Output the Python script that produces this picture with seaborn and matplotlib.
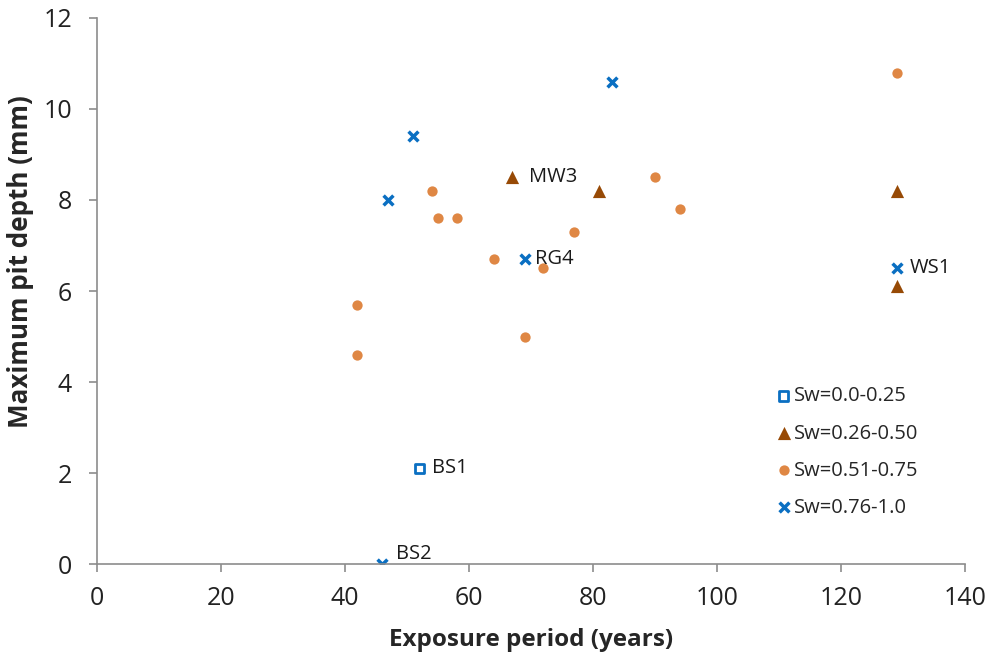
import pandas as pd
import seaborn as sns
import matplotlib.pyplot as plt

# -----------------------------
# Data
# -----------------------------

sq_x = [52]
sq_y = [2.1]

tri_x = [67, 81, 129, 129]
tri_y = [8.5, 8.2, 8.2, 6.1]

circ_x = [42, 42, 54, 55, 58, 64, 69, 72, 77, 90, 94, 129]
circ_y = [5.7, 4.6, 8.2, 7.6, 7.6, 6.7, 5.0, 6.5, 7.3, 8.5, 7.8, 10.8]

cross_x = [46, 47, 51, 69, 83, 129]
cross_y = [0.0, 8.0, 9.4, 6.7, 10.6, 6.5]

label_names = ['BS1', 'BS2', 'MW3', 'RG4', 'WS1']
label_x = [52, 46, 67, 69, 129]
label_y = [2.1, 0.0, 8.5, 6.7, 6.5]

series_names = ['Sw=0.0-0.25', 'Sw=0.26-0.50', 'Sw=0.51-0.75', 'Sw=0.76-1.0']

blue = '#0A6FC2'
brown = '#974A06'
orange = '#DF8744'
grey = '#8C8C8C'

sns.set_style('white')
plt.rcParams['font.family'] = ['Open Sans', 'DejaVu Sans']

fig = plt.figure(figsize=(9.91, 6.56), dpi=100)
ax = fig.add_axes([0.0979, 0.1402, 0.8759, 0.8324])

sns.scatterplot(x=sq_x, y=sq_y, marker='s', s=45, facecolor='none',
                edgecolor=blue, linewidth=2, label=series_names[0], ax=ax)
sns.scatterplot(x=tri_x, y=tri_y, marker='^', s=90, color=brown,
                linewidth=0, label=series_names[1], ax=ax)
sns.scatterplot(x=circ_x, y=circ_y, marker='o', s=55, color=orange,
                linewidth=0, label=series_names[2], ax=ax)
sns.scatterplot(x=cross_x, y=cross_y, marker='x', s=50, color=blue,
                linewidth=2.5, label=series_names[3], ax=ax)

# point labels
offsets = {'BS1': (9, 0), 'BS2': (10, 7), 'MW3': (12, 0), 'RG4': (7, 0), 'WS1': (9, 0)}
for name, x, y in zip(label_names, label_x, label_y):
    ax.annotate(name, (x, y), xytext=offsets[name], textcoords='offset points',
                ha='left', va='center', fontsize=14.5, color='#1a1a1a')

ax.set_xlim(0, 140)
ax.set_ylim(0, 12)
ax.set_xticks(range(0, 141, 20))
ax.set_yticks(range(0, 13, 2))
ax.tick_params(axis='both', labelsize=18, colors='#222222', direction='out',
               length=6, width=1.2, color=grey, bottom=True, left=True)
ax.tick_params(axis='x', pad=10)
ax.tick_params(axis='y', pad=12)
for side in ['top', 'right']:
    ax.spines[side].set_visible(False)
for side in ['left', 'bottom']:
    ax.spines[side].set_color(grey)
    ax.spines[side].set_linewidth(1.2)

ax.set_xlabel('Exposure period (years)', fontsize=17.5, fontweight='bold', labelpad=12)
ax.set_ylabel('Maximum pit depth (mm)', fontsize=18.7, fontweight='bold')
ax.yaxis.set_label_coords(-0.073, 0.553)

leg = ax.legend(loc='upper left', bbox_to_anchor=(0.77, 0.34), frameon=False,
                fontsize=14.5, handletextpad=0.0, labelspacing=0.85,
                handlelength=1.0, borderaxespad=0)

plt.savefig('out.png', dpi=100)
plt.close()
